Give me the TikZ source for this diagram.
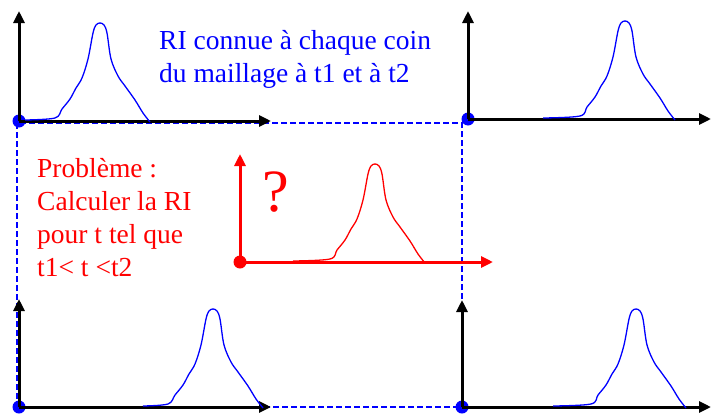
\documentclass[tikz,border=0pt]{standalone}
\usepackage{fontspec}
\setmainfont{Liberation Serif}
\usetikzlibrary{arrows.meta}

\begin{document}
\begin{tikzpicture}[
    x=1pt, y=-1pt,
    axis/.style={
        line width=3pt,
        -{Triangle[length=12pt,width=11pt]}
    },
    grid/.style={
        blue,
        line width=2pt,
        dash pattern=on 6pt off 3pt
    },
    dot/.style={
        circle,
        fill=#1,
        inner sep=0pt,
        minimum size=13pt
    },
    curve/.style={line width=1.3pt, line join=round},
    note/.style={
        font=\fontsize{27.5}{33}\selectfont,
        align=left,
        inner sep=0pt,
        anchor=north west
    },
    pics/peak/.style={code={
        \draw[curve, pic actions] plot[smooth, tension=0.55] coordinates {
            (-45-#1,-1) (-45,-3) (-38,-12) (-30,-22) (-24,-33) (-18,-43)
            (-12,-62) (-7,-88) (-4,-96) (0,-98) (4,-96) (7,-88) (11,-62)
            (18,-45) (25,-35) (35,-21) (43,-8) (50,1)};
    }}
]
\useasboundingbox (0,0) rectangle (711,415);

% --- Mesh cell (dashed) ---
\coordinate (c1) at (17,123);
\coordinate (c3) at (462,407);
\draw[grid] (c1) rectangle (c3);

% --- Corner origins ---
\node[dot=blue] (tl) at (19,121)  {};
\node[dot=blue] (tr) at (468,119) {};
\node[dot=blue] (bl) at (19,407)  {};
\node[dot=blue] (br) at (462,407) {};
\node[dot=red]  (mid) at (240,262) {};

% --- Axis ends ---
\coordinate (tl-y) at (19,11);
\coordinate (tl-x) at (271,121);
\coordinate (tr-y) at (468,11);
\coordinate (tr-x) at (711,119);
\coordinate (bl-y) at (19,299);
\coordinate (bl-x) at (271,407);
\coordinate (br-y) at (462,300);
\coordinate (br-x) at (711,407);
\coordinate (mid-y) at (240,154);
\coordinate (mid-x) at (493,262);

% --- Axes ---
\foreach \o in {tl,tr,bl,br}{
    \draw[axis] (\o.center) -- (\o-y);
    \draw[axis] (\o.center) -- (\o-x);
}
\draw[axis, red] (mid.center) -- (mid-y);
\draw[axis, red] (mid.center) -- (mid-x);

% --- Impulse responses ---
\pic[blue] (ri-tl) at (100,121) {peak=30};
\pic[blue] (ri-tr) at (625,119) {peak=37};
\pic[blue] (ri-bl) at (213,407) {peak=25};
\pic[blue] (ri-br) at (636,407) {peak=38};
\pic[red]  (ri-mid) at (375,262) {peak=37};

% --- Texts ---
\node[note, text=blue] (known) at (159,30) {RI connue à chaque coin\\du maillage à t1 et à t2};
\node[note, text=red]  (task)  at (37,158) {Problème :\\Calculer la RI\\pour t tel que\\t1< t <t2};
\node[text=red, font=\fontsize{60}{60}\selectfont, anchor=base, inner sep=0pt] (qmark) at (276,211) {?};

\end{tikzpicture}
\end{document}
